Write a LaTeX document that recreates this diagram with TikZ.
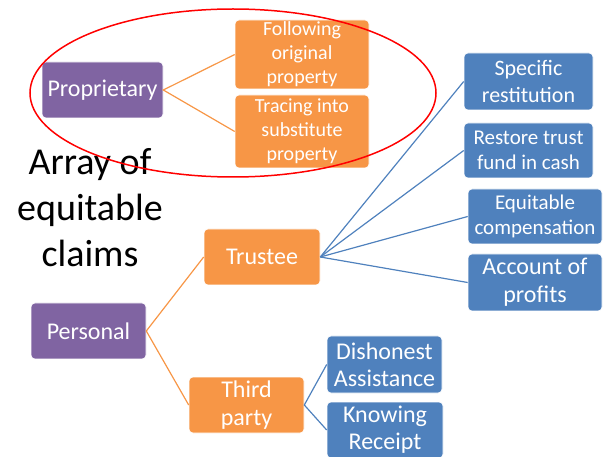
\documentclass[tikz,border=0pt]{standalone}
\usepackage{fontspec}
\setmainfont{Carlito}
\definecolor{claimpurple}{HTML}{8064A2}
\definecolor{claimorange}{HTML}{F79646}
\definecolor{claimblue}{HTML}{4F81BD}
\tikzset{
  claimbox/.style={rounded corners=4pt, draw=white, line width=0.6pt, text=white,
    align=center, inner sep=0pt, font=\fontsize{24}{28}\selectfont},
  purplebox/.style={claimbox, fill=claimpurple},
  orangebox/.style={claimbox, fill=claimorange},
  bluebox/.style={claimbox, fill=claimblue},
  orangeline/.style={claimorange, line width=1.2pt},
  blueline/.style={claimblue, line width=1.2pt}
}
\begin{document}
\begin{tikzpicture}[x=1pt,y=-1pt]
        \useasboundingbox (0,0) rectangle (603,457);
        % title
        \node[font=\fontsize{38}{46}\selectfont, align=center] (title) at (90,208) {Array of\\equitable\\claims};
        % proprietary branch
        \node[purplebox, minimum width=121pt, minimum height=56pt] (proprietary) at (102.5,90) {Proprietary};
        \node[orangebox, minimum width=134pt, minimum height=69pt, font=\fontsize{20}{24}\selectfont] (following) at (302,54.5) {Following\\original\\property};
        \node[orangebox, minimum width=134pt, minimum height=73pt, font=\fontsize{20}{24}\selectfont] (tracing) at (302,131.5) {Tracing into\\substitute\\property};
        % personal branch
        \node[purplebox, minimum width=115pt, minimum height=56pt] (personal) at (88.5,331) {Personal};
        \node[orangebox, minimum width=116pt, minimum height=56pt] (trustee) at (262,257) {Trustee};
        \node[orangebox, minimum width=115pt, minimum height=56pt] (thirdparty) at (246.5,405) {Third\\party};
        % trustee remedies
        \node[bluebox, minimum width=129pt, minimum height=57pt, font=\fontsize{22}{27}\selectfont] (specific) at (528.5,81.5) {Specific\\restitution};
        \node[bluebox, minimum width=129pt, minimum height=55pt, font=\fontsize{21}{25}\selectfont] (restore) at (528.5,150.5) {Restore trust\\fund in cash};
        \node[bluebox, minimum width=134pt, minimum height=55pt, font=\fontsize{21}{25}\selectfont] (compensation) at (535,216.5) {Equitable\\compensation};
        \node[bluebox, minimum width=134pt, minimum height=57pt] (account) at (535,282.5) {Account of\\profits};
        % third party liability
        \node[bluebox, minimum width=115pt, minimum height=57pt, font=\fontsize{24}{27}\selectfont] (dishonest) at (384.5,364.5) {Dishonest\\Assistance};
        \node[bluebox, minimum width=116pt, minimum height=56pt, font=\fontsize{24}{27}\selectfont] (knowing) at (385,430) {Knowing\\Receipt};
        % connectors
        \draw[orangeline] (following.west) -- (proprietary.east) -- (tracing.west);
        \draw[orangeline] (trustee.west) -- (personal.east) -- (thirdparty.west);
        \draw[blueline] (trustee.east) -- (specific.west);
        \draw[blueline] (trustee.east) -- (restore.west);
        \draw[blueline] (trustee.east) -- (compensation.west);
        \draw[blueline] (trustee.east) -- (account.west);
        \draw[blueline] (dishonest.west) -- (thirdparty.east) -- (knowing.west);
        % highlight
        \draw[red, line width=1.5pt] (233,93) ellipse [x radius=203pt, y radius=84pt];
    \end{tikzpicture}
\end{document}
